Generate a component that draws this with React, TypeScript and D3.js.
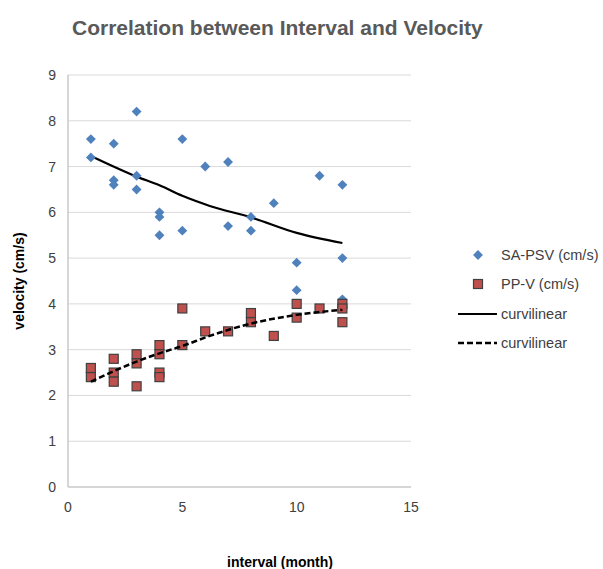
import React, { useEffect, useRef } from "react";
import * as d3 from "d3";

// scatter data
const saInterval = [1, 1, 2, 2, 2, 3, 3, 3, 4, 4, 4, 5, 5, 6, 7, 7, 8, 8, 9, 10, 10, 11, 12, 12, 12];
const saVelocity = [7.6, 7.2, 7.5, 6.7, 6.6, 8.2, 6.8, 6.5, 6.0, 5.9, 5.5, 7.6, 5.6, 7.0, 7.1, 5.7, 5.9, 5.6, 6.2, 4.9, 4.3, 6.8, 6.6, 5.0, 4.1];

const ppInterval = [1, 1, 2, 2, 2, 3, 3, 3, 4, 4, 4, 4, 5, 5, 6, 7, 8, 8, 9, 10, 10, 11, 12, 12, 12];
const ppVelocity = [2.6, 2.4, 2.8, 2.5, 2.3, 2.9, 2.7, 2.2, 3.1, 2.9, 2.5, 2.4, 3.9, 3.1, 3.4, 3.4, 3.8, 3.6, 3.3, 4.0, 3.7, 3.9, 4.0, 3.9, 3.6];

// trend curves
const trendInterval = [1, 3, 4, 5, 6.2, 8, 10, 12];
const saTrend = [7.23, 6.78, 6.59, 6.36, 6.14, 5.89, 5.55, 5.33];
const ppTrend = [2.3, 2.74, 2.92, 3.08, 3.3, 3.57, 3.76, 3.87];

const xTicks = [0, 5, 10, 15];
const yTicks = [0, 1, 2, 3, 4, 5, 6, 7, 8, 9];

const legendLabels = ["SA-PSV (cm/s)", "PP-V (cm/s)", "curvilinear", "curvilinear"];

const font = "'Liberation Sans', Arial, sans-serif";

export default function App() {
    const ref = useRef<SVGSVGElement | null>(null);

    useEffect(() => {
        const svg = d3.select(ref.current);
        svg.selectAll("*").remove();

        const width = 603;
        const height = 569;
        const margin = { top: 75, left: 68 };
        const plotW = 343;
        const plotH = 412;

        svg.append("rect").attr("width", width).attr("height", height).attr("fill", "#fff");

        const xScale = d3.scaleLinear().domain([0, 15]).range([margin.left, margin.left + plotW]);
        const yScale = d3.scaleLinear().domain([0, 9]).range([margin.top + plotH, margin.top]);

        // gridlines
        svg.append("g")
            .selectAll("line")
            .data(yTicks.slice(1))
            .enter()
            .append("line")
            .attr("x1", xScale(0))
            .attr("x2", xScale(15))
            .attr("y1", (d) => yScale(d))
            .attr("y2", (d) => yScale(d))
            .attr("stroke", "#d9d9d9")
            .attr("stroke-width", 1);

        // axis lines
        svg.append("line")
            .attr("x1", xScale(0)).attr("x2", xScale(0))
            .attr("y1", yScale(0)).attr("y2", yScale(9))
            .attr("stroke", "#c8c8c8").attr("stroke-width", 1.5);
        svg.append("line")
            .attr("x1", xScale(0)).attr("x2", xScale(15))
            .attr("y1", yScale(0)).attr("y2", yScale(0))
            .attr("stroke", "#c8c8c8").attr("stroke-width", 1.5);

        // tick labels
        svg.append("g")
            .selectAll("text")
            .data(yTicks)
            .enter()
            .append("text")
            .attr("x", xScale(0) - 12)
            .attr("y", (d) => yScale(d) + 5)
            .attr("text-anchor", "end")
            .attr("font-family", font)
            .attr("font-size", 14)
            .attr("fill", "#404040")
            .text((d) => d);

        svg.append("g")
            .selectAll("text")
            .data(xTicks)
            .enter()
            .append("text")
            .attr("x", (d) => xScale(d))
            .attr("y", yScale(0) + 25)
            .attr("text-anchor", "middle")
            .attr("font-family", font)
            .attr("font-size", 14)
            .attr("fill", "#404040")
            .text((d) => d);

        // trend lines
        const line = d3.line<number>()
            .x((d, i) => xScale(trendInterval[i]))
            .y((d) => yScale(d))
            .curve(d3.curveMonotoneX);

        svg.append("path")
            .attr("d", line(saTrend))
            .attr("fill", "none")
            .attr("stroke", "#000")
            .attr("stroke-width", 2.2);

        // diamonds
        const diamond = d3.symbol().type(d3.symbolDiamond2).size(62);
        svg.append("g")
            .selectAll("path")
            .data(saVelocity)
            .enter()
            .append("path")
            .attr("d", diamond)
            .attr("transform", (d, i) => `translate(${xScale(saInterval[i])},${yScale(d)})`)
            .attr("fill", "#4f81bd");

        // squares
        svg.append("g")
            .selectAll("rect")
            .data(ppVelocity)
            .enter()
            .append("rect")
            .attr("x", (d, i) => xScale(ppInterval[i]) - 4.5)
            .attr("y", (d) => yScale(d) - 4.5)
            .attr("width", 9)
            .attr("height", 9)
            .attr("fill", "#c0504d")
            .attr("stroke", "#404040")
            .attr("stroke-width", 1.2);

        svg.append("path")
            .attr("d", line(ppTrend))
            .attr("fill", "none")
            .attr("stroke", "#000")
            .attr("stroke-width", 2.5)
            .attr("stroke-dasharray", "6,3");

        // legend
        const lx = 458;
        const ly = [255, 284, 314, 343];
        svg.append("path")
            .attr("d", diamond)
            .attr("transform", `translate(${lx + 20},${ly[0]})`)
            .attr("fill", "#4f81bd");
        svg.append("rect")
            .attr("x", lx + 15.5).attr("y", ly[1] - 4.5)
            .attr("width", 9).attr("height", 9)
            .attr("fill", "#c0504d").attr("stroke", "#404040").attr("stroke-width", 1.2);
        svg.append("line")
            .attr("x1", lx).attr("x2", lx + 39)
            .attr("y1", ly[2]).attr("y2", ly[2])
            .attr("stroke", "#000").attr("stroke-width", 2.2);
        svg.append("line")
            .attr("x1", lx).attr("x2", lx + 39)
            .attr("y1", ly[3]).attr("y2", ly[3])
            .attr("stroke", "#000").attr("stroke-width", 2.5)
            .attr("stroke-dasharray", "6,3");

        svg.append("g")
            .selectAll("text")
            .data(legendLabels)
            .enter()
            .append("text")
            .attr("x", lx + 43)
            .attr("y", (d, i) => ly[i] + 5)
            .attr("font-family", font)
            .attr("font-size", 14.5)
            .attr("fill", "#404040")
            .text((d) => d);

        // title
        svg.append("text")
            .attr("x", 72)
            .attr("y", 35)
            .attr("font-family", font)
            .attr("font-size", 21)
            .attr("font-weight", "bold")
            .attr("fill", "#595959")
            .text("Correlation between Interval and Velocity");

        // axis titles
        svg.append("text")
            .attr("x", 280)
            .attr("y", 567)
            .attr("text-anchor", "middle")
            .attr("font-family", font)
            .attr("font-size", 14)
            .attr("font-weight", "bold")
            .attr("fill", "#000")
            .text("interval (month)");

        svg.append("text")
            .attr("transform", "translate(24,281) rotate(-90)")
            .attr("text-anchor", "middle")
            .attr("font-family", font)
            .attr("font-size", 14)
            .attr("font-weight", "bold")
            .attr("fill", "#000")
            .text("velocity (cm/s)");
    }, []);

    return (
        <div style={{ position: "absolute", left: 0, top: 0 }}>
            <svg ref={ref} width={603} height={569} style={{ display: "block" }} />
        </div>
    );
}
